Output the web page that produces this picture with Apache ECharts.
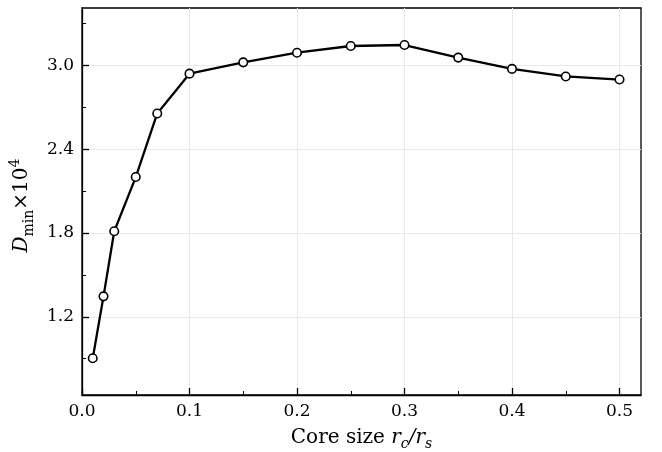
<!DOCTYPE html>
<html>
<head>
<meta charset="utf-8">
<script src="https://cdn.jsdelivr.net/npm/echarts@6/dist/echarts.min.js"></script>
<style>
  html, body { margin: 0; padding: 0; background: #fff; }
  #chart { width: 662px; height: 452px; }
</style>
</head>
<body>
<div id="chart"></div>
<script>
const coreSize = [0.01, 0.02, 0.03, 0.05, 0.07, 0.1, 0.15, 0.2, 0.25, 0.3, 0.35, 0.4, 0.45, 0.5];
const dMin = [0.903, 1.346, 1.812, 2.2, 2.655, 2.94, 3.021, 3.09, 3.138, 3.145, 3.055, 2.974, 2.92, 2.898];
const xMajorTicks = [0, 0.1, 0.2, 0.3, 0.4, 0.5];
const xMinorTicks = [0.05, 0.15, 0.25, 0.35, 0.45];
const yMajorTicks = [1.2, 1.8, 2.4, 3.0];
const yMinorTicks = [0.9, 1.5, 2.1, 2.7, 3.3];

const FONT = "DejaVu Serif";
const chart = echarts.init(document.getElementById("chart"));

const majorTick = { show: true, inside: true, length: 7, lineStyle: { color: "#000", width: 1.3 } };
const minorTick = { show: true, inside: true, length: 4, lineStyle: { color: "#000", width: 1 } };
const grayLine = { show: true, lineStyle: { color: "#e9e9e9", width: 1 } };

const option = {
  animation: false,
  grid: {
    left: 82, right: 21, top: 8, bottom: 57,
    outerBoundsMode: "none",
    show: true, borderColor: "#000", borderWidth: 1.3
  },
  xAxis: [
    {
      type: "value",
      min: 0, max: 0.52,
      name: "Core size {i|r}{sub|c}{i|/r}{sub|s}",
      nameLocation: "middle",
      nameGap: 30,
      nameTextStyle: {
        fontFamily: FONT, fontSize: 20, color: "#000",
        rich: {
          i: { fontFamily: FONT, fontStyle: "italic", fontSize: 20, color: "#000", lineHeight: 26 },
          sub: { fontFamily: FONT, fontStyle: "italic", fontSize: 14, color: "#000", verticalAlign: "bottom", lineHeight: 14 }
        }
      },
      axisLine: { lineStyle: { color: "#000", width: 1.3 } },
      axisTick: Object.assign({ customValues: xMajorTicks }, majorTick),
      axisLabel: {
        fontFamily: FONT, fontSize: 17, color: "#000", margin: 8,
        customValues: xMajorTicks,
        formatter: v => v.toFixed(1)
      },
      splitLine: grayLine
    },
    {
      type: "value",
      min: 0, max: 0.52,
      position: "bottom",
      axisLine: { show: false },
      axisTick: Object.assign({ customValues: xMinorTicks }, minorTick),
      axisLabel: { show: false },
      splitLine: { show: false }
    }
  ],
  yAxis: [
    {
      type: "value",
      min: 0.64, max: 3.41,
      name: "{i|D}{sub|min}×10{sup|4}",
      nameLocation: "middle",
      nameRotate: 90,
      nameGap: 40,
      nameTextStyle: {
        fontFamily: FONT, fontSize: 20, color: "#000",
        padding: [0, 8, 0, 0],
        rich: {
          i: { fontFamily: FONT, fontStyle: "italic", fontSize: 20, color: "#000", lineHeight: 28 },
          sub: { fontFamily: FONT, fontSize: 14, color: "#000", verticalAlign: "bottom", lineHeight: 14 },
          sup: { fontFamily: FONT, fontSize: 14, color: "#000", verticalAlign: "top", lineHeight: 14 }
        }
      },
      axisLine: { show: true, lineStyle: { color: "#000", width: 1.3 } },
      axisTick: Object.assign({ customValues: yMajorTicks }, majorTick),
      axisLabel: {
        fontFamily: FONT, fontSize: 17, color: "#000", margin: 8,
        customValues: yMajorTicks,
        formatter: v => v.toFixed(1)
      },
      splitLine: grayLine
    },
    {
      type: "value",
      min: 0.64, max: 3.41,
      position: "left",
      axisLine: { show: false },
      axisTick: Object.assign({ customValues: yMinorTicks }, minorTick),
      axisLabel: { show: false },
      splitLine: { show: false }
    }
  ],
  series: [
    {
      type: "line",
      data: coreSize.map((x, i) => [x, dMin[i]]),
      symbol: "circle",
      symbolSize: 8.5,
      showAllSymbol: true,
      lineStyle: { color: "#000", width: 2.3 },
      itemStyle: { color: "#fff", borderColor: "#000", borderWidth: 1.6 },
      z: 5
    }
  ]
};

chart.setOption(option);
</script>
</body>
</html>
